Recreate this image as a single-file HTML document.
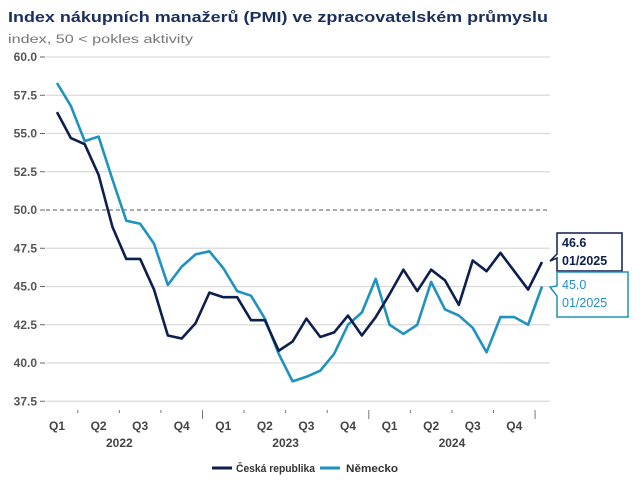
<!DOCTYPE html>
<html><head><meta charset="utf-8"><style>
body{margin:0;background:#fff;width:640px;height:482px;overflow:hidden;font-family:"Liberation Sans",sans-serif}
</style></head><body>
<svg id="c" width="640" height="482" viewBox="0 0 640 482">
<text x="8" y="22" font-size="15" font-weight="bold" fill="#1a2f5c" textLength="540" lengthAdjust="spacingAndGlyphs">Index nákupních manažerů (PMI) ve zpracovatelském průmyslu</text>
<text x="8" y="43" font-size="11.5" fill="#777" textLength="185" lengthAdjust="spacingAndGlyphs">index, 50 &lt; pokles aktivity</text>
<g id="grid"></g><g id="series"></g><g id="xaxis"></g>
<g>
<line x1="212" y1="468" x2="232" y2="468" stroke="#0d1f4f" stroke-width="3"/>
<text x="236" y="472" font-size="11" font-weight="bold" fill="#333" textLength="79" lengthAdjust="spacingAndGlyphs">Česká republika</text>
<line x1="320" y1="468" x2="340" y2="468" stroke="#1e92c0" stroke-width="3"/>
<text x="346" y="472" font-size="11" font-weight="bold" fill="#333" textLength="52" lengthAdjust="spacingAndGlyphs">Německo</text>
</g>
<g>
<path d="M557,233 H622 V271 H557 V258 L550,261 L557,254 Z" fill="#fff" stroke="#0d1f4f" stroke-width="1.5"/>
<text x="562" y="247" font-size="12.5" font-weight="bold" fill="#0d1f4f">46.6</text>
<text x="562" y="265" font-size="12.5" font-weight="bold" fill="#0d1f4f">01/2025</text>
</g>
<g>
<path d="M557,272 H628 V317 H557 V296 L550,287 L557,286 Z" fill="#fff" stroke="#1e92c0" stroke-width="1.5"/>
<text x="562" y="289" font-size="12.5" fill="#1e92c0">45.0</text>
<text x="562" y="307" font-size="12.5" fill="#1e92c0">01/2025</text>
</g>
</svg>
<script>
const czech=[56.4,54.7,54.3,52.3,48.9,46.8,46.8,44.8,41.8,41.6,42.6,44.6,44.3,44.3,42.8,42.8,40.8,41.4,42.9,41.7,42.0,43.1,41.8,43.0,44.5,46.1,44.7,46.1,45.4,43.8,46.7,46.0,47.2,46.0,44.8,46.6];
const germany=[58.3,56.8,54.5,54.8,52.0,49.3,49.1,47.8,45.1,46.3,47.1,47.3,46.2,44.7,44.4,42.9,40.6,38.8,39.1,39.5,40.6,42.5,43.3,45.5,42.5,41.9,42.5,45.3,43.5,43.1,42.3,40.7,43.0,43.0,42.5,45.0];
const yTicks=[60.0,57.5,55.0,52.5,50.0,47.5,45.0,42.5,40.0,37.5];
const quarters=["Q1","Q2","Q3","Q4","Q1","Q2","Q3","Q4","Q1","Q2","Q3","Q4"];
const years=["2022","2023","2024"];
const NS="http://www.w3.org/2000/svg";
const y=v=>57+(60-v)*15.3;
const x=i=>57+i*(485/35);
function mk(t,a,p){const e=document.createElementNS(NS,t);for(const k in a)e.setAttribute(k,a[k]);document.getElementById(p).appendChild(e);return e;}
yTicks.forEach(v=>{
 const l=mk('line',{x1:46,x2:550,y1:y(v),y2:y(v),stroke:v===50?'#555':'#d9d9d9','stroke-width':v===50?1:1.3,'stroke-dasharray':v===50?'4,3':''},'grid');
 
 
 mk('line',{x1:40,x2:45,y1:y(v),y2:y(v),stroke:'#666'},'grid');
 const t=mk('text',{x:37,y:y(v)+4,'font-size':12,'font-weight':'bold','text-anchor':'end',fill:'#555'},'grid');
 t.textContent=v.toFixed(1);
 
 
});
quarters.forEach((q,k)=>{
 const t=mk('text',{x:x(k*3),y:430,'font-size':12,'font-weight':'bold','text-anchor':'middle',fill:'#444'},'xaxis');
 t.textContent=q;
 
 
 const tx=x(k*3+1.5);
 mk('line',{x1:tx,x2:tx,y1:410,y2:(k%4===3)?419:413,stroke:'#777'},'xaxis');
});
years.forEach((yr,k)=>{
 const t=mk('text',{x:x(k*12+4.5),y:447,'font-size':12,'font-weight':'bold','text-anchor':'middle',fill:'#444'},'xaxis');
 t.textContent=yr;
 
 
});
function line(d,c,n){
 const p=mk('polyline',{points:d.map((v,i)=>x(i)+','+y(v)).join(' '),fill:'none',stroke:c,'stroke-width':2.6,'stroke-linejoin':'round'},'series');
 
 
}
line(germany,'#1e92c0','germany-line');
line(czech,'#0d1f4f','czech-line');
</script>
</body></html>
